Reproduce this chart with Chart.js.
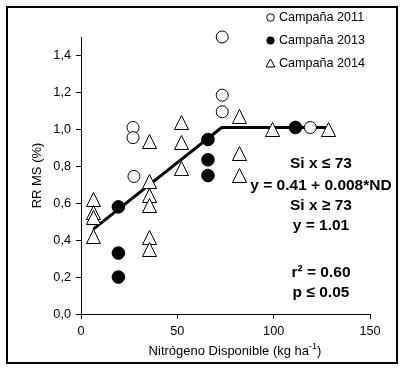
<!DOCTYPE html>
<html>
<head>
<meta charset="utf-8">
<script src="https://cdn.jsdelivr.net/npm/chart.js@4"></script>
<style>
  html, body { margin: 0; padding: 0; background: #fff; }
</style>
</head>
<body>
<canvas id="chart" width="404" height="371"></canvas>
<script>
const SERIES_LABELS = ["Campaña 2011", "Campaña 2013", "Campaña 2014"];

const x2011 = [27, 27, 27.5, 73.3, 73.3, 73.3, 119];
const y2011 = [1.01, 0.955, 0.745, 1.5, 1.185, 1.095, 1.01];

const x2013 = [19.4, 19.4, 19.4, 65.9, 65.9, 65.9, 111.3];
const y2013 = [0.58, 0.33, 0.2, 0.945, 0.835, 0.75, 1.01];

const x2014 = [6.4, 6.4, 6.4, 6.4, 35.5, 35.5, 35.5, 35.5, 35.5, 35.5, 52.4, 52.4, 52.4, 82.2, 82.2, 82.2, 99.2, 128.4];
const y2014 = [0.62, 0.55, 0.52, 0.42, 0.935, 0.72, 0.64, 0.59, 0.415, 0.35, 1.035, 0.93, 0.79, 1.07, 0.87, 0.75, 1.0, 1.0];

// modelo lineal-meseta
const fitX = [6.4, 73, 128.4];
const fitY = [0.46, 1.01, 1.01];

const xTicks = [0, 50, 100, 150];
const yTicks = [0, 0.2, 0.4, 0.6, 0.8, 1.0, 1.2, 1.4];

const NOTE_LINES = ["Si x ≤ 73", "y = 0.41 + 0.008*ND", "Si x ≥ 73", "y = 1.01", "r² = 0.60", "p ≤ 0.05"];

const FONT = "'Liberation Sans', Arial, sans-serif";

const toPoints = (xs, ys) => xs.map((x, i) => ({ x, y: ys[i] }));

function triangleMarker(size) {
  const c = document.createElement("canvas");
  c.width = size;
  c.height = size;
  const g = c.getContext("2d");
  g.beginPath();
  g.moveTo(size / 2, 0.5);
  g.lineTo(size - 0.5, size - 0.5);
  g.lineTo(0.5, size - 0.5);
  g.closePath();
  g.fillStyle = "#fff";
  g.fill();
  g.strokeStyle = "#000";
  g.lineWidth = 1;
  g.stroke();
  return c;
}

const decor = {
  id: "decor",
  beforeDraw(chart) {
    const { ctx } = chart;
    ctx.save();
    ctx.fillStyle = "#fff";
    ctx.fillRect(0, 0, chart.width, chart.height);
    ctx.restore();
  },
  beforeDatasetsDraw(chart) {
    // marcadores nitidos
    chart.ctx.imageSmoothingEnabled = false;
  },
  afterDraw(chart) {
    const { ctx } = chart;
    ctx.save();
    ctx.strokeStyle = "#000";
    ctx.lineWidth = 2;
    ctx.strokeRect(7, 7, 390, 356);

    // leyenda
    const legY = [17.5, 40.5, 63.5];
    const mx = 270.5;
    ctx.lineWidth = 1;
    ctx.beginPath();
    ctx.arc(mx, legY[0], 3.8, 0, Math.PI * 2);
    ctx.fillStyle = "#fff";
    ctx.fill();
    ctx.stroke();
    ctx.beginPath();
    ctx.arc(mx, legY[1], 4, 0, Math.PI * 2);
    ctx.fillStyle = "#000";
    ctx.fill();
    ctx.beginPath();
    ctx.moveTo(mx, legY[2] - 4.5);
    ctx.lineTo(mx + 4.5, legY[2] + 3.5);
    ctx.lineTo(mx - 4.5, legY[2] + 3.5);
    ctx.closePath();
    ctx.fillStyle = "#fff";
    ctx.fill();
    ctx.stroke();
    ctx.fillStyle = "#000";
    ctx.font = "12.6px " + FONT;
    ctx.textAlign = "left";
    ctx.textBaseline = "middle";
    SERIES_LABELS.forEach((t, i) => ctx.fillText(t, 279, legY[i]));

    // ecuaciones
    const noteY = [163.5, 185.5, 205.5, 226, 272.5, 292.5];
    ctx.font = "bold 15.5px " + FONT;
    ctx.textAlign = "center";
    NOTE_LINES.forEach((t, i) => ctx.fillText(t, 321, noteY[i]));

    // titulo eje x con superindice
    const main = "Nitrógeno Disponible (kg ha";
    const sup = "-1";
    const tail = ")";
    ctx.font = "13px " + FONT;
    const w1 = ctx.measureText(main).width;
    const w3 = ctx.measureText(tail).width;
    ctx.font = "9px " + FONT;
    const w2 = ctx.measureText(sup).width;
    let x0 = 235 - (w1 + w2 + w3) / 2;
    ctx.textAlign = "left";
    ctx.textBaseline = "alphabetic";
    ctx.font = "13px " + FONT;
    ctx.fillText(main, x0, 355);
    ctx.font = "9px " + FONT;
    ctx.fillText(sup, x0 + w1, 349);
    ctx.font = "13px " + FONT;
    ctx.fillText(tail, x0 + w1 + w2, 355);
    ctx.restore();
  },
};

new Chart(document.getElementById("chart").getContext("2d"), {
  type: "scatter",
  data: {
    datasets: [
      {
        label: SERIES_LABELS[0],
        data: toPoints(x2011, y2011),
        pointStyle: "circle",
        pointRadius: 6,
        backgroundColor: "#fff",
        borderColor: "#000",
        borderWidth: 1,
        clip: false,
      },
      {
        label: SERIES_LABELS[1],
        data: toPoints(x2013, y2013),
        pointStyle: "circle",
        pointRadius: 6.3,
        backgroundColor: "#000",
        borderColor: "#000",
        borderWidth: 1,
        clip: false,
      },
      {
        label: SERIES_LABELS[2],
        data: toPoints(x2014, y2014),
        pointStyle: triangleMarker(15),
        clip: false,
      },
      {
        label: "Ajuste",
        data: toPoints(fitX, fitY),
        showLine: true,
        pointRadius: 0,
        borderColor: "#000",
        borderWidth: 3,
        fill: false,
        clip: false,
      },
    ],
  },
  options: {
    responsive: false,
    animation: false,
    devicePixelRatio: 1,
    layout: { padding: { left: 0, right: 34, top: 37, bottom: 0 } },
    plugins: { legend: { display: false }, tooltip: { enabled: false } },
    scales: {
      x: {
        type: "linear",
        min: 0,
        max: 150,
        afterBuildTicks: (s) => { s.ticks = xTicks.map((v) => ({ value: v })); },
        afterFit: (s) => { s.height = 57; },
        grid: { drawOnChartArea: false, tickLength: 5, color: "#000" },
        border: { color: "#000", width: 1 },
        ticks: { color: "#000", font: { family: FONT, size: 12.7 }, padding: 5, maxRotation: 0, autoSkip: false },
      },
      y: {
        min: 0,
        max: 1.5,
        afterBuildTicks: (s) => { s.ticks = yTicks.map((v) => ({ value: v })); },
        afterFit: (s) => { s.width = 81; },
        grid: { drawOnChartArea: false, tickLength: 5, color: "#000" },
        border: { color: "#000", width: 1 },
        ticks: {
          color: "#000",
          font: { family: FONT, size: 12.7 },
          padding: 5,
          autoSkip: false,
          callback: (v) => Number(v).toFixed(1).replace(".", ","),
        },
        title: {
          display: true,
          text: "RR MS (%)",
          color: "#000",
          font: { family: FONT, size: 13 },
          padding: { top: 30, bottom: 0 },
        },
      },
    },
  },
  plugins: [decor],
});
</script>
</body>
</html>
